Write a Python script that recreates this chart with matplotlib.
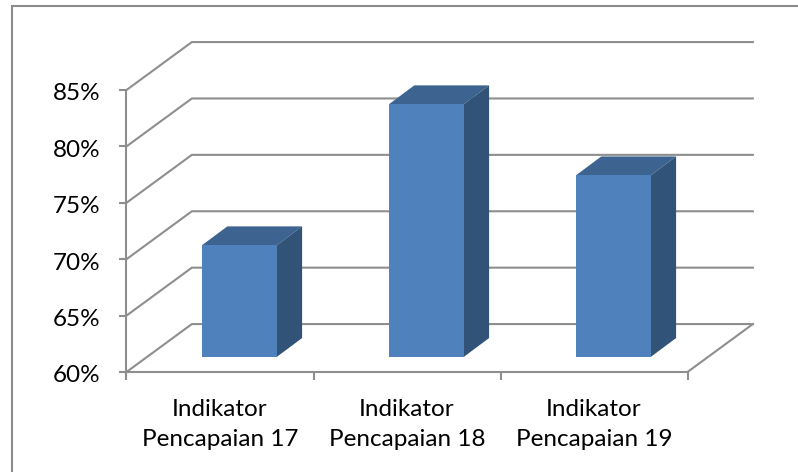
import matplotlib
matplotlib.use('Agg')
import matplotlib.pyplot as plt
from matplotlib.patches import Polygon, Rectangle
from matplotlib.transforms import ScaledTranslation

plt.rcParams['font.family'] = ['Lato', 'DejaVu Sans']

# data
categories = ['Indikator\nPencapaian 17', 'Indikator\nPencapaian 18', 'Indikator\nPencapaian 19']
values = [69.9, 82.4, 76.1]
y_ticks = [60, 65, 70, 75, 80, 85]

W, H = 798, 472
LEFT, RIGHT = 126.5, 687.5      # front plane in pixels
BOTTOM, TOP = 372, 90

fig = plt.figure(figsize=(W / 100, H / 100), dpi=100)
ax = fig.add_axes([LEFT / W, 1 - BOTTOM / H, (RIGHT - LEFT) / W, (BOTTOM - TOP) / H])
ax.set_xlim(-0.5, 2.5)
ax.set_ylim(60, 85)
ax.patch.set_visible(False)
for s in ax.spines.values():
    s.set_visible(False)

# outer frame, right and bottom edges fall outside the picture
fig.add_artist(Rectangle((11.5 / W, -0.05), 1.05, 1.05 - 6 / H, transform=fig.transFigure,
                         fc='white', ec='#8c8c8c', lw=1.5, zorder=-5))

grey = '#8e8e8e'
depth_x = 0.3495    # wall depth, category units
depth_y = 4.25      # wall depth, value units
x0, x1 = -0.5, 2.5

# gridlines on side wall + back wall
for v in y_ticks:
    ax.plot([x0, x0 + depth_x, x1 + depth_x], [v, v + depth_y, v + depth_y],
            color=grey, lw=1.5, clip_on=False, zorder=1, solid_joinstyle='miter')
# floor
ax.plot([x0, x1, x1 + depth_x], [60, 60, 60 + depth_y], color=grey, lw=1.5, clip_on=False, zorder=1)
ax.plot([x0, x0], [60, 85], color=grey, lw=1.5, clip_on=False, zorder=1)

# bars with fake 3d
bar_w = 0.4
bar_off = 0.103     # shift toward back, category units
lift = 1.33         # bars stand this far up the floor, value units
bar_dx = 0.136
bar_dy = 1.68
for i, v in enumerate(values):
    xl = i + bar_off - bar_w / 2
    xr = i + bar_off + bar_w / 2
    base = 60 + lift
    top = v + lift
    ax.add_patch(Polygon([(xl, top), (xr, top), (xr + bar_dx, top + bar_dy), (xl + bar_dx, top + bar_dy)],
                         fc='#3d6390', ec='none', zorder=3, clip_on=False))
    ax.add_patch(Polygon([(xr, base), (xr + bar_dx, base + bar_dy), (xr + bar_dx, top + bar_dy), (xr, top)],
                         fc='#325378', ec='none', zorder=3, clip_on=False))
    ax.add_patch(Polygon([(xl, base), (xr, base), (xr, top), (xl, top)],
                         fc='#4f81bd', ec='none', zorder=4, clip_on=False))

ax.set_xticks([-0.5, 0.5, 1.5, 2.5])
ax.set_xticklabels([])
ax.set_yticks(y_ticks)
ax.set_yticklabels([f'{v}%' for v in y_ticks], fontsize=17.5, color='black', va='center')
ax.tick_params(axis='y', length=6, width=1.5, color=grey, pad=12.5)
ax.tick_params(axis='x', length=6, width=1.5, color=grey)
# labels sit a little under their ticks
shift = ScaledTranslation(0, -4 / 100, fig.dpi_scale_trans)
for t in ax.get_yticklabels():
    t.set_transform(t.get_transform() + shift)

for i, c in enumerate(categories):
    ax.annotate(c, (i, 60), xytext=(0, -19.5), textcoords='offset points', ha='center', va='top',
                fontsize=17.5, color='black', linespacing=1.55, annotation_clip=False)

fig.savefig('out.png', dpi=100)
